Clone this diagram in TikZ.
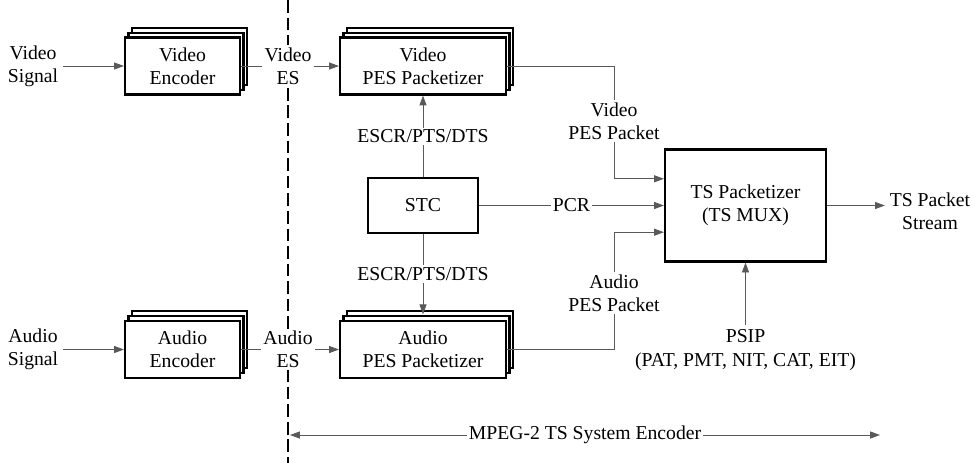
\documentclass[tikz,border=0pt]{standalone}
\usepackage{fontspec}
\setmainfont{Liberation Serif}
\usetikzlibrary{arrows.meta,shadows}

\begin{document}
\begin{tikzpicture}[x=0.025cm,y=-0.025cm,
    font=\rmfamily\fontsize{14}{16.5}\selectfont,
    box/.style={draw,line width=1.5pt,fill=white,align=center,inner sep=0pt},
    stackbox/.style={box,double copy shadow={shadow xshift=2.5pt,shadow yshift=3.5pt,line width=1.5pt}},
    lbl/.style={align=center,fill=white,inner sep=1.5pt},
    conn/.style={draw=black!65,line width=0.6pt},
    arr/.style={conn,-{Triangle[length=7pt,width=5pt]}},
    arrboth/.style={conn,{Triangle[length=7pt,width=5pt]}-{Triangle[length=7pt,width=5pt]}}]
    \useasboundingbox (0,0) rectangle (977,463);
    % boundary of the system encoder
    \coordinate (dtop) at (288,0);
    \coordinate (dbot) at (288,463);
    \draw[line width=2pt,dash pattern=on 9pt off 3.5pt] (dtop) -- (dbot);
    % blocks
    \node[stackbox,minimum width=2.875cm,minimum height=1.425cm] (venc) at (182.5,66) {Video\\Encoder};
    \node[stackbox,minimum width=2.875cm,minimum height=1.425cm] (aenc) at (182.5,349.5) {Audio\\Encoder};
    \node[stackbox,minimum width=4.15cm,minimum height=1.425cm] (vpes) at (423,66) {Video\\PES Packetizer};
    \node[stackbox,minimum width=4.15cm,minimum height=1.425cm] (apes) at (423,349.5) {Audio\\PES Packetizer};
    \node[box,minimum width=2.75cm,minimum height=1.375cm] (stc) at (423,205.5) {STC};
    \node[box,minimum width=4.025cm,minimum height=2.8cm] (ts) at (745.5,205.5) {TS Packetizer\\(TS MUX)};
    % signal labels
    \node[align=center] (vsig) at (33,66) {Video\\Signal};
    \node[align=center] (asig) at (33,349.5) {Audio\\Signal};
    \node[lbl] (ves) at (288,66) {Video\\ES};
    \node[lbl] (aes) at (288,349.5) {Audio\\ES};
    \node[lbl] (vpkt) at (614,121) {Video\\PES Packet};
    \node[lbl] (apkt) at (614,293) {Audio\\PES Packet};
    \node[align=center] (psip) at (745.5,350) {PSIP\\(PAT, PMT, NIT, CAT, EIT)};
    \node[align=center] (tsout) at (930,211) {TS Packet\\Stream};
    \coordinate (mpl) at (290,435);
    \coordinate (mpr) at (880,435);
    % connectors
    \draw[arr] (vsig) -- (venc);
    \draw[conn] (venc) -- (ves);
    \draw[arr] (ves) -- (vpes);
    \draw[arr] (asig) -- (aenc);
    \draw[conn] (aenc) -- (aes);
    \draw[arr] (aes) -- (apes);
    \draw[arr] (stc) -- (vpes) node[lbl,midway] {ESCR/PTS/DTS};
    \draw[arr] (stc) -- ([yshift=4pt]apes.north) node[lbl,midway] {ESCR/PTS/DTS};
    \draw[arr] (vpes) -| (vpkt) |- ([yshift=19pt]ts.west);
    \draw[arr] (apes) -| (apkt) |- ([yshift=-19pt]ts.west);
    \draw[arr] (stc) -- (ts) node[lbl,midway] {PCR};
    \draw[arr] (psip) -- (ts);
    \draw[arr] (ts) -- (ts -| tsout.west);
    \draw[arrboth] (mpl) -- (mpr) node[lbl,midway] {MPEG-2 TS System Encoder};
\end{tikzpicture}
\end{document}
